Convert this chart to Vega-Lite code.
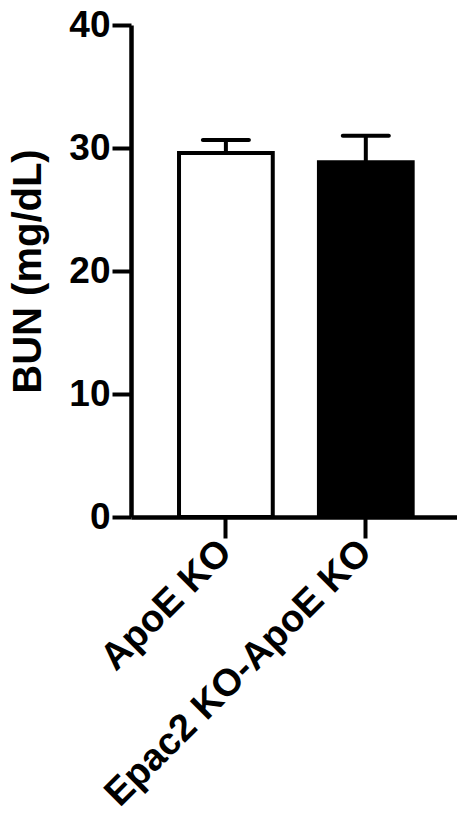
{
  "$schema": "https://vega.github.io/schema/vega-lite/v6.json",
  "width": 326,
  "height": 492,
  "autosize": {"type": "none"},
  "padding": {"left": 131, "top": 25, "right": 0, "bottom": 296},
  "background": "white",
  "config": {
    "view": {"stroke": null},
    "font": "Liberation Sans"
  },
  "data": {
    "values": [
      {"group": "ApoE KO", "mean": 29.6, "upper": 30.65},
      {"group": "Epac2 KO-ApoE KO", "mean": 28.85, "upper": 31.0}
    ]
  },
  "encoding": {
    "x": {
      "field": "group",
      "type": "nominal",
      "sort": null,
      "scale": {"paddingInner": 0.33, "paddingOuter": 0.33, "align": 0.52},
      "axis": {
        "title": null,
        "labelAngle": -45,
        "labelAlign": "right",
        "labelBaseline": "middle",
        "labelFont": "Liberation Sans",
        "labelFontWeight": "bold",
        "labelFontSize": 38,
        "labelColor": "black",
        "labelPadding": 8,
        "labelLimit": 600,
        "domainColor": "black",
        "domainWidth": 4.5,
        "tickColor": "black",
        "tickWidth": 4,
        "tickSize": 21,
        "grid": false
      }
    }
  },
  "layer": [
    {
      "mark": {"type": "rule", "color": "black", "strokeWidth": 4},
      "encoding": {
        "y": {"field": "mean", "type": "quantitative"},
        "y2": {"field": "upper"}
      }
    },
    {
      "mark": {"type": "tick", "color": "black", "thickness": 4, "size": 50, "cornerRadius": 2, "opacity": 1},
      "encoding": {
        "y": {"field": "upper", "type": "quantitative"}
      }
    },
    {
      "mark": {"type": "bar", "stroke": "black", "strokeWidth": 4},
      "encoding": {
        "y": {
          "field": "mean",
          "type": "quantitative",
          "scale": {"domain": [0, 40], "nice": false},
          "axis": {
            "title": "BUN (mg/dL)",
            "titleFont": "Liberation Sans",
            "titleFontWeight": "bold",
            "titleFontSize": 40,
            "titleColor": "black",
            "titlePadding": 20,
            "values": [0, 10, 20, 30, 40],
            "labelFont": "Liberation Sans",
            "labelFontWeight": "bold",
            "labelFontSize": 37,
            "labelColor": "black",
            "labelPadding": 2,
            "domainColor": "black",
            "domainWidth": 4.5,
            "tickColor": "black",
            "tickWidth": 4,
            "tickSize": 19,
            "grid": false
          }
        },
        "fill": {
          "field": "group",
          "type": "nominal",
          "scale": {"domain": ["ApoE KO", "Epac2 KO-ApoE KO"], "range": ["white", "black"]},
          "legend": null
        }
      }
    }
  ]
}
